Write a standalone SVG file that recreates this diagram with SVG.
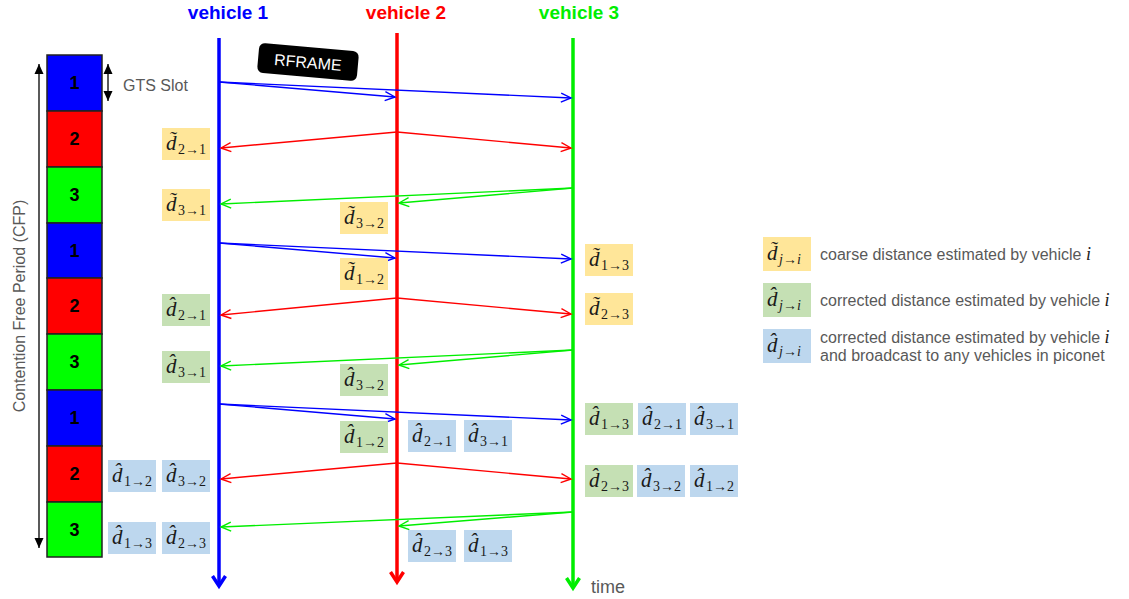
<svg xmlns="http://www.w3.org/2000/svg" width="1129" height="599" viewBox="0 0 1129 599">
<style>
.slot{stroke:#222;stroke-width:1.5}
.sn{font-family:"Liberation Sans",Arial,sans-serif;font-weight:bold;font-size:18px;fill:#000;text-anchor:middle}
.gray{font-family:"Liberation Sans",Arial,sans-serif;font-size:16px;fill:#595959}
.vl{font-family:"Liberation Sans",Arial,sans-serif;font-weight:bold;font-size:19px;text-anchor:middle}
.by{fill:#FFE699}.bg{fill:#C5E0B4}.bb{fill:#BDD7EE}
.d{font-family:"Liberation Serif","DejaVu Serif",serif;font-style:italic;font-size:21px;fill:#1a1a1a}
.s{font-style:normal;font-size:14px}
.a{font-style:normal;font-size:14px}
.si{font-style:italic;font-size:14px}
.mb{stroke:#0000ff;stroke-width:1.4;fill:none;marker-end:url(#ab)}
.mr{stroke:#ff0000;stroke-width:1.4;fill:none;marker-end:url(#ar)}
.mg{stroke:#00ee00;stroke-width:1.4;fill:none;marker-end:url(#ag)}
</style>
<defs>
<marker id="ab" markerUnits="userSpaceOnUse" markerWidth="12" markerHeight="12" refX="10" refY="5" orient="auto" overflow="visible"><path d="M0,0.5 L10,5 L0,9.5" fill="none" stroke="#0000ff" stroke-width="1.4"/></marker>
<marker id="ar" markerUnits="userSpaceOnUse" markerWidth="12" markerHeight="12" refX="10" refY="5" orient="auto" overflow="visible"><path d="M0,0.5 L10,5 L0,9.5" fill="none" stroke="#ff0000" stroke-width="1.4"/></marker>
<marker id="ag" markerUnits="userSpaceOnUse" markerWidth="12" markerHeight="12" refX="10" refY="5" orient="auto" overflow="visible"><path d="M0,0.5 L10,5 L0,9.5" fill="none" stroke="#00ee00" stroke-width="1.4"/></marker>
<marker id="vb" markerUnits="userSpaceOnUse" markerWidth="16" markerHeight="16" refX="11" refY="7" orient="auto" overflow="visible"><path d="M1,0.5 L11,7 L1,13.5" fill="none" stroke="#0000ff" stroke-width="3.5"/></marker>
<marker id="vr" markerUnits="userSpaceOnUse" markerWidth="16" markerHeight="16" refX="11" refY="7" orient="auto" overflow="visible"><path d="M1,0.5 L11,7 L1,13.5" fill="none" stroke="#ff0000" stroke-width="3.5"/></marker>
<marker id="vg" markerUnits="userSpaceOnUse" markerWidth="16" markerHeight="16" refX="11" refY="7" orient="auto" overflow="visible"><path d="M1,0.5 L11,7 L1,13.5" fill="none" stroke="#00ee00" stroke-width="3.5"/></marker>
<marker id="tri" markerUnits="userSpaceOnUse" markerWidth="12" markerHeight="12" refX="10" refY="4.5" orient="auto-start-reverse" overflow="visible"><path d="M0,0 L10,4.5 L0,9 Z" fill="#000"/></marker>
</defs>
<rect width="1129" height="599" fill="#fff"/>

<g id="slots">
<rect class="slot" x="47" y="55" width="55" height="56" fill="#0000ff"/>
<rect class="slot" x="47" y="111" width="55" height="56" fill="#ff0000"/>
<rect class="slot" x="47" y="167" width="55" height="56" fill="#00ff00"/>
<rect class="slot" x="47" y="223" width="55" height="55" fill="#0000ff"/>
<rect class="slot" x="47" y="278" width="55" height="56" fill="#ff0000"/>
<rect class="slot" x="47" y="334" width="55" height="56" fill="#00ff00"/>
<rect class="slot" x="47" y="390" width="55" height="56" fill="#0000ff"/>
<rect class="slot" x="47" y="446" width="55" height="56" fill="#ff0000"/>
<rect class="slot" x="47" y="502" width="55" height="55" fill="#00ff00"/>
<text class="sn" x="74.5" y="89">1</text>
<text class="sn" x="74.5" y="145">2</text>
<text class="sn" x="74.5" y="201">3</text>
<text class="sn" x="74.5" y="257">1</text>
<text class="sn" x="74.5" y="312">2</text>
<text class="sn" x="74.5" y="368">3</text>
<text class="sn" x="74.5" y="424">1</text>
<text class="sn" x="74.5" y="480">2</text>
<text class="sn" x="74.5" y="536">3</text>
</g>

<g id="cfp">
<line x1="39" y1="64" x2="39" y2="548" stroke="#000" stroke-width="1.3" marker-start="url(#tri)" marker-end="url(#tri)"/>
<text class="gray" transform="translate(25,306) rotate(-90)" text-anchor="middle">Contention Free Period (CFP)</text>
</g>
<g id="gts">
<line x1="108" y1="64" x2="108" y2="101" stroke="#000" stroke-width="1.3" marker-start="url(#tri)" marker-end="url(#tri)"/>
<text class="gray" x="123" y="91">GTS Slot</text>
</g>

<g id="vehicle1">
<text class="vl" x="228" y="19" fill="#0000ff">vehicle 1</text>
<line x1="219" y1="38" x2="219" y2="586" stroke="#0000ff" stroke-width="3.5" marker-end="url(#vb)"/>
</g>
<g id="vehicle2">
<text class="vl" x="406" y="19" fill="#ff0000">vehicle 2</text>
<line x1="397" y1="33" x2="397" y2="582" stroke="#ff0000" stroke-width="3.5" marker-end="url(#vr)"/>
</g>
<g id="vehicle3">
<text class="vl" x="579" y="19" fill="#00ee00">vehicle 3</text>
<line x1="573" y1="38" x2="573" y2="588" stroke="#00ee00" stroke-width="3.5" marker-end="url(#vg)"/>
<text x="591" y="593" style="font-family:'Liberation Sans',Arial,sans-serif;font-size:18px;fill:#595959">time</text>
</g>

<g id="rframe" transform="translate(308,62) rotate(5)">
<rect x="-50" y="-15" width="100" height="30" rx="6" fill="#000"/>
<text x="0" y="6" text-anchor="middle" style="font-family:'Liberation Sans',Arial,sans-serif;font-size:16px;fill:#fff">RFRAME</text>
</g>

<g id="connectors">
<line class="mb" x1="219" y1="82" x2="395" y2="97"/>
<line class="mb" x1="219" y1="82" x2="571" y2="98"/>
<line class="mr" x1="397" y1="132" x2="221" y2="148"/>
<line class="mr" x1="397" y1="132" x2="571" y2="148"/>
<line class="mg" x1="573" y1="188" x2="221" y2="204"/>
<line class="mg" x1="573" y1="188" x2="399" y2="203"/>
<line class="mb" x1="219" y1="243" x2="395" y2="258"/>
<line class="mb" x1="219" y1="243" x2="571" y2="259"/>
<line class="mr" x1="397" y1="298" x2="221" y2="315"/>
<line class="mr" x1="397" y1="298" x2="571" y2="314"/>
<line class="mg" x1="573" y1="350" x2="221" y2="366"/>
<line class="mg" x1="573" y1="350" x2="399" y2="365"/>
<line class="mb" x1="219" y1="404" x2="395" y2="419"/>
<line class="mb" x1="219" y1="404" x2="571" y2="420"/>
<line class="mr" x1="397" y1="463" x2="221" y2="479"/>
<line class="mr" x1="397" y1="463" x2="571" y2="479"/>
<line class="mg" x1="573" y1="512" x2="221" y2="527"/>
<line class="mg" x1="573" y1="512" x2="399" y2="526"/>
</g>

<g id="L1" transform="translate(162,128)"><rect class="by" width="48" height="32"/><text class="d" x="4" y="22">d̃<tspan class="s" dx="1.5" dy="4">2</tspan><tspan class="a">→</tspan><tspan class="s">1</tspan></text></g>
<g id="L2" transform="translate(162,189)"><rect class="by" width="48" height="32"/><text class="d" x="4" y="22">d̃<tspan class="s" dx="1.5" dy="4">3</tspan><tspan class="a">→</tspan><tspan class="s">1</tspan></text></g>
<g id="L3" transform="translate(340,202)"><rect class="by" width="48" height="32"/><text class="d" x="4" y="22">d̃<tspan class="s" dx="1.5" dy="4">3</tspan><tspan class="a">→</tspan><tspan class="s">2</tspan></text></g>
<g id="L4" transform="translate(340,258)"><rect class="by" width="48" height="32"/><text class="d" x="4" y="22">d̃<tspan class="s" dx="1.5" dy="4">1</tspan><tspan class="a">→</tspan><tspan class="s">2</tspan></text></g>
<g id="L5" transform="translate(585,244)"><rect class="by" width="48" height="32"/><text class="d" x="4" y="22">d̃<tspan class="s" dx="1.5" dy="4">1</tspan><tspan class="a">→</tspan><tspan class="s">3</tspan></text></g>
<g id="L6" transform="translate(585,293)"><rect class="by" width="48" height="32"/><text class="d" x="4" y="22">d̃<tspan class="s" dx="1.5" dy="4">2</tspan><tspan class="a">→</tspan><tspan class="s">3</tspan></text></g>

<g id="L7" transform="translate(162,294)"><rect class="bg" width="48" height="32"/><text class="d" x="4" y="22">d̂<tspan class="s" dx="1.5" dy="4">2</tspan><tspan class="a">→</tspan><tspan class="s">1</tspan></text></g>
<g id="L8" transform="translate(162,351)"><rect class="bg" width="48" height="32"/><text class="d" x="4" y="22">d̂<tspan class="s" dx="1.5" dy="4">3</tspan><tspan class="a">→</tspan><tspan class="s">1</tspan></text></g>
<g id="L9" transform="translate(340,364)"><rect class="bg" width="48" height="32"/><text class="d" x="4" y="22">d̂<tspan class="s" dx="1.5" dy="4">3</tspan><tspan class="a">→</tspan><tspan class="s">2</tspan></text></g>
<g id="L10" transform="translate(340,421)"><rect class="bg" width="48" height="32"/><text class="d" x="4" y="22">d̂<tspan class="s" dx="1.5" dy="4">1</tspan><tspan class="a">→</tspan><tspan class="s">2</tspan></text></g>
<g id="L11" transform="translate(585,403)"><rect class="bg" width="48" height="32"/><text class="d" x="4" y="22">d̂<tspan class="s" dx="1.5" dy="4">1</tspan><tspan class="a">→</tspan><tspan class="s">3</tspan></text></g>
<g id="L12" transform="translate(585,465)"><rect class="bg" width="48" height="32"/><text class="d" x="4" y="22">d̂<tspan class="s" dx="1.5" dy="4">2</tspan><tspan class="a">→</tspan><tspan class="s">3</tspan></text></g>

<g id="L13" transform="translate(408,420)"><rect class="bb" width="48" height="32"/><text class="d" x="4" y="22">d̂<tspan class="s" dx="1.5" dy="4">2</tspan><tspan class="a">→</tspan><tspan class="s">1</tspan></text></g>
<g id="L14" transform="translate(464,420)"><rect class="bb" width="48" height="32"/><text class="d" x="4" y="22">d̂<tspan class="s" dx="1.5" dy="4">3</tspan><tspan class="a">→</tspan><tspan class="s">1</tspan></text></g>
<g id="L15" transform="translate(638,403)"><rect class="bb" width="48" height="32"/><text class="d" x="4" y="22">d̂<tspan class="s" dx="1.5" dy="4">2</tspan><tspan class="a">→</tspan><tspan class="s">1</tspan></text></g>
<g id="L16" transform="translate(690,403)"><rect class="bb" width="48" height="32"/><text class="d" x="4" y="22">d̂<tspan class="s" dx="1.5" dy="4">3</tspan><tspan class="a">→</tspan><tspan class="s">1</tspan></text></g>
<g id="L17" transform="translate(637,465)"><rect class="bb" width="48" height="32"/><text class="d" x="4" y="22">d̂<tspan class="s" dx="1.5" dy="4">3</tspan><tspan class="a">→</tspan><tspan class="s">2</tspan></text></g>
<g id="L18" transform="translate(690,465)"><rect class="bb" width="48" height="32"/><text class="d" x="4" y="22">d̂<tspan class="s" dx="1.5" dy="4">1</tspan><tspan class="a">→</tspan><tspan class="s">2</tspan></text></g>
<g id="L19" transform="translate(408,530)"><rect class="bb" width="48" height="32"/><text class="d" x="4" y="22">d̂<tspan class="s" dx="1.5" dy="4">2</tspan><tspan class="a">→</tspan><tspan class="s">3</tspan></text></g>
<g id="L20" transform="translate(464,530)"><rect class="bb" width="48" height="32"/><text class="d" x="4" y="22">d̂<tspan class="s" dx="1.5" dy="4">1</tspan><tspan class="a">→</tspan><tspan class="s">3</tspan></text></g>
<g id="L21" transform="translate(108,460)"><rect class="bb" width="48" height="32"/><text class="d" x="4" y="22">d̂<tspan class="s" dx="1.5" dy="4">1</tspan><tspan class="a">→</tspan><tspan class="s">2</tspan></text></g>
<g id="L22" transform="translate(162,460)"><rect class="bb" width="48" height="32"/><text class="d" x="4" y="22">d̂<tspan class="s" dx="1.5" dy="4">3</tspan><tspan class="a">→</tspan><tspan class="s">2</tspan></text></g>
<g id="L23" transform="translate(108,522)"><rect class="bb" width="48" height="32"/><text class="d" x="4" y="22">d̂<tspan class="s" dx="1.5" dy="4">1</tspan><tspan class="a">→</tspan><tspan class="s">3</tspan></text></g>
<g id="L24" transform="translate(162,522)"><rect class="bb" width="48" height="32"/><text class="d" x="4" y="22">d̂<tspan class="s" dx="1.5" dy="4">2</tspan><tspan class="a">→</tspan><tspan class="s">3</tspan></text></g>

<g id="legend1">
<g transform="translate(763,237)"><rect class="by" width="48" height="34"/><text class="d" x="4" y="23">d̃<tspan class="si" dx="1.5" dy="4">j</tspan><tspan class="a">→</tspan><tspan class="si">i</tspan></text></g>
<text class="gray" x="820" y="260">coarse distance estimated by vehicle <tspan style="font-family:'Liberation Serif',serif;font-style:italic;font-size:18px;fill:#1a1a1a">i</tspan></text>
</g>
<g id="legend2">
<g transform="translate(763,283)"><rect class="bg" width="48" height="34"/><text class="d" x="4" y="23">d̂<tspan class="si" dx="1.5" dy="4">j</tspan><tspan class="a">→</tspan><tspan class="si">i</tspan></text></g>
<text class="gray" x="820" y="306">corrected distance estimated by vehicle <tspan style="font-family:'Liberation Serif',serif;font-style:italic;font-size:18px;fill:#1a1a1a">i</tspan></text>
</g>
<g id="legend3">
<g transform="translate(763,329)"><rect class="bb" width="48" height="34"/><text class="d" x="4" y="23">d̂<tspan class="si" dx="1.5" dy="4">j</tspan><tspan class="a">→</tspan><tspan class="si">i</tspan></text></g>
<text class="gray" x="820" y="343">corrected distance estimated by vehicle <tspan style="font-family:'Liberation Serif',serif;font-style:italic;font-size:18px;fill:#1a1a1a">i</tspan></text>
<text class="gray" x="820" y="361">and broadcast to any vehicles in piconet</text>
</g>
</svg>
